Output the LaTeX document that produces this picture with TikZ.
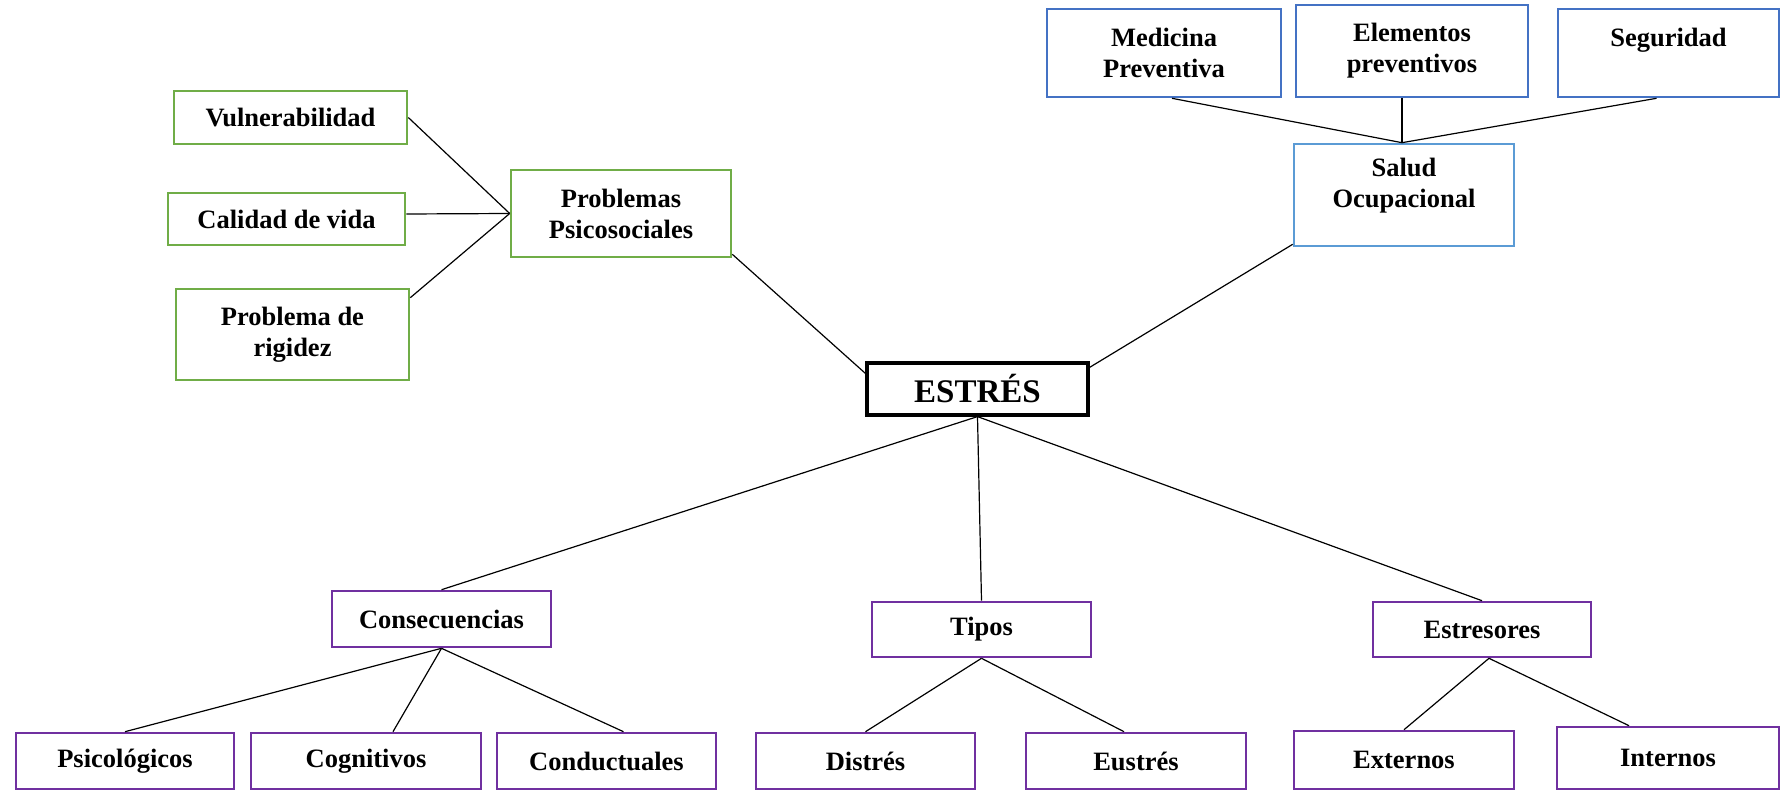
\documentclass[tikz,border=0pt]{standalone}
\usepackage{fontspec}
\setmainfont{Liberation Serif}
\definecolor{grn}{HTML}{70AD47}
\definecolor{blu}{HTML}{4472C4}
\definecolor{lblu}{HTML}{5B9BD5}
\definecolor{pur}{HTML}{7030A0}
\begin{document}
\begin{tikzpicture}[x=1pt,y=1pt,
  box/.style={draw, rectangle, line width=2.6pt, inner sep=0pt, align=center,
    font=\fontsize{26.5}{31}\selectfont\bfseries},
  gbox/.style={box, draw=grn},
  bbox/.style={box, draw=blu},
  lbbox/.style={box, draw=lblu},
  pbox/.style={box, draw=pur},
  mainbox/.style={box, draw=black, line width=3.2pt, font=\fontsize{33}{38}\selectfont\bfseries},
  conn/.style={draw=black, line width=1.2pt}]
\useasboundingbox (0,0) rectangle (1782,-791);
% left group
\node[gbox, minimum width=233, minimum height=53] (vul) at (290.5,-117.5) {Vulnerabilidad};
\node[gbox, minimum width=237, minimum height=52] (cal) at (286.5,-219) {Calidad de vida};
\node[gbox, minimum width=233, minimum height=91] (rig) at (292.5,-334.5) {Problema de\\rigidez};
\node[gbox, minimum width=220, minimum height=87] (psico) at (621,-213.5) {Problemas\\Psicosociales};
% center
\node[mainbox, minimum width=221, minimum height=52] (est) at (977.5,-389) {ESTRÉS};
% top right group
\node[bbox, minimum width=234, minimum height=88] (med) at (1164,-53) {Medicina\\Preventiva};
\node[bbox, minimum width=232, minimum height=92] (ele) at (1412,-51) {Elementos\\preventivos};
\node[bbox, minimum width=221, minimum height=88] (seg) at (1668.5,-53) {Seguridad\\\mbox{}};
\node[lbbox, minimum width=220, minimum height=102] (sal) at (1404,-195) {Salud\\Ocupacional\\[-6pt]\mbox{}};
% middle row
\node[pbox, minimum width=219, minimum height=56] (cons) at (441.5,-619) {Consecuencias};
\node[pbox, minimum width=219, minimum height=55] (tip) at (981.5,-629.5) {Tipos};
\node[pbox, minimum width=218, minimum height=55] (estr) at (1482,-629.5) {Estresores};
% bottom row
\node[pbox, minimum width=218, minimum height=56] (psi) at (125,-761) {Psicológicos};
\node[pbox, minimum width=230, minimum height=56] (cog) at (366,-761) {Cognitivos};
\node[pbox, minimum width=219, minimum height=56] (cond) at (606.5,-761) {Conductuales};
\node[pbox, minimum width=219, minimum height=56] (dis) at (865.5,-761) {Distrés};
\node[pbox, minimum width=220, minimum height=56] (eus) at (1136,-761) {Eustrés};
\node[pbox, minimum width=220, minimum height=58] (ext) at (1404,-760) {Externos};
\node[pbox, minimum width=222, minimum height=62] (int) at (1668,-758) {Internos};
% connectors
\draw[conn] (vul.east) -- (psico.west);
\draw[conn] ([yshift=5]cal.east) -- (psico.west);
\draw[conn] ([yshift=-10]rig.north east) -- (psico.west);
\draw[conn] ([yshift=4]psico.south east) -- ([yshift=-12]est.north west);
\draw[conn] ([yshift=-6]est.north east) -- ([yshift=3]sal.south west);
\draw[conn] ([xshift=8]med.south) -- ([xshift=-2]sal.north);
\draw[conn] ([xshift=-10]ele.south) -- ([xshift=-2]sal.north);
\draw[conn] ([xshift=-12]seg.south) -- ([xshift=-2]sal.north);
\draw[conn] (est.south) -- (cons.north);
\draw[conn] (est.south) -- (tip.north);
\draw[conn] (est.south) -- (estr.north);
\draw[conn] (cons.south) -- (psi.north);
\draw[conn] (cons.south) -- ([xshift=27]cog.north);
\draw[conn] (cons.south) -- ([xshift=17]cond.north);
\draw[conn] (tip.south) -- (dis.north);
\draw[conn] (tip.south) -- ([xshift=-12]eus.north);
\draw[conn] ([xshift=7]estr.south) -- (ext.north);
\draw[conn] ([xshift=7]estr.south) -- ([xshift=-39]int.north);
\end{tikzpicture}
\end{document}
